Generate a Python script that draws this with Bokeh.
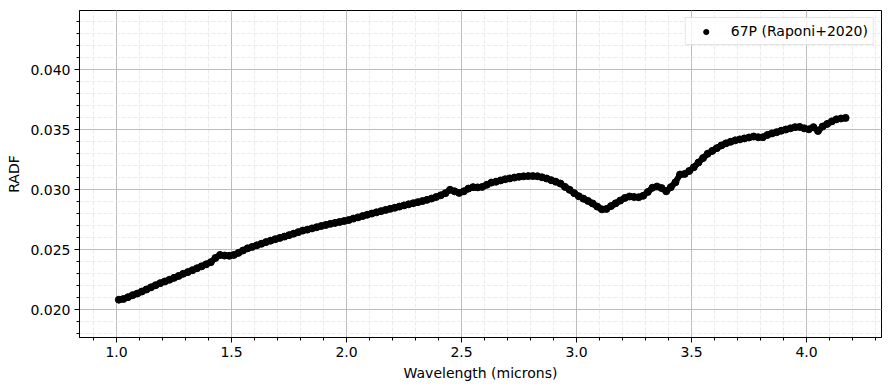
import numpy as np
from bokeh.plotting import figure
from bokeh.models import (ColumnDataSource, Range1d, FixedTicker, PrintfTickFormatter,
                          Legend, LegendItem)
from bokeh.embed import file_html
from bokeh.resources import INLINE

# 67P nucleus reflectance spectrum (radiance factor) vs wavelength
wavelength = [
    1.01, 1.03, 1.05, 1.07, 1.09, 1.11, 1.13, 1.15, 1.17, 1.19,
    1.21, 1.23, 1.25, 1.27, 1.29, 1.31, 1.33, 1.35, 1.37, 1.39,
    1.41, 1.43, 1.45, 1.47, 1.49, 1.51, 1.53, 1.55, 1.57, 1.59,
    1.61, 1.63, 1.65, 1.67, 1.69, 1.71, 1.73, 1.75, 1.77, 1.79,
    1.81, 1.83, 1.85, 1.87, 1.89, 1.91, 1.93, 1.95, 1.97, 1.99,
    2.01, 2.03, 2.05, 2.07, 2.09, 2.11, 2.13, 2.15, 2.17, 2.19,
    2.21, 2.23, 2.25, 2.27, 2.29, 2.31, 2.33, 2.35, 2.37, 2.39,
    2.41, 2.43, 2.45, 2.47, 2.49, 2.51, 2.53, 2.55, 2.57, 2.59,
    2.61, 2.63, 2.65, 2.67, 2.69, 2.71, 2.73, 2.75, 2.77, 2.79,
    2.81, 2.83, 2.85, 2.87, 2.89, 2.91, 2.93, 2.95, 2.97, 2.99,
    3.01, 3.03, 3.05, 3.07, 3.09, 3.11, 3.13, 3.15, 3.17, 3.19,
    3.21, 3.23, 3.25, 3.27, 3.29, 3.31, 3.33, 3.35, 3.37, 3.39,
    3.41, 3.43, 3.45, 3.47, 3.49, 3.51, 3.53, 3.55, 3.57, 3.59,
    3.61, 3.63, 3.65, 3.67, 3.69, 3.71, 3.73, 3.75, 3.77, 3.79,
    3.81, 3.83, 3.85, 3.87, 3.89, 3.91, 3.93, 3.95, 3.97, 3.99,
    4.01, 4.03, 4.05, 4.07, 4.09, 4.11, 4.13, 4.15, 4.17,
]

radf = [
    0.02082, 0.02088, 0.02103, 0.02120, 0.02133, 0.02150, 0.02167, 0.02185, 0.02203, 0.02220,
    0.02234, 0.02248, 0.02264, 0.02280, 0.02298, 0.02312, 0.02328, 0.02344, 0.02360, 0.02377,
    0.02395, 0.02430, 0.02455, 0.02450, 0.02448, 0.02455, 0.02472, 0.02492, 0.02510, 0.02522,
    0.02535, 0.02548, 0.02562, 0.02574, 0.02586, 0.02597, 0.02608, 0.02620, 0.02632, 0.02645,
    0.02658, 0.02666, 0.02676, 0.02686, 0.02696, 0.02705, 0.02714, 0.02722, 0.02730, 0.02738,
    0.02746, 0.02758, 0.02768, 0.02779, 0.02790, 0.02800, 0.02810, 0.02820, 0.02830, 0.02839,
    0.02848, 0.02858, 0.02868, 0.02877, 0.02886, 0.02895, 0.02904, 0.02914, 0.02925, 0.02938,
    0.02952, 0.02970, 0.02998, 0.02985, 0.02972, 0.02985, 0.03008, 0.03020, 0.03018, 0.03022,
    0.03040, 0.03058, 0.03065, 0.03076, 0.03086, 0.03093, 0.03100, 0.03106, 0.03110, 0.03112,
    0.03112, 0.03111, 0.03102, 0.03092, 0.03078, 0.03065, 0.03050, 0.03022, 0.02998, 0.02970,
    0.02944, 0.02924, 0.02905, 0.02884, 0.02858, 0.02835, 0.02838, 0.02862, 0.02885, 0.02908,
    0.02930, 0.02942, 0.02938, 0.02936, 0.02948, 0.02980, 0.03015, 0.03025, 0.03012, 0.02985,
    0.03020, 0.03060, 0.03125, 0.03130, 0.03155, 0.03186, 0.03225, 0.03262, 0.03298, 0.03322,
    0.03345, 0.03368, 0.03385, 0.03398, 0.03410, 0.03418, 0.03426, 0.03434, 0.03442, 0.03436,
    0.03436, 0.03455, 0.03468, 0.03478, 0.03490, 0.03500, 0.03510, 0.03520, 0.03522, 0.03510,
    0.03502, 0.03520, 0.03488, 0.03525, 0.03547, 0.03568, 0.03585, 0.03592, 0.03597,
]

radf_err = [
    0.00008, 0.00008, 0.00007, 0.00008, 0.00008, 0.00007, 0.00008, 0.00008, 0.00007, 0.00008,
    0.00008, 0.00007, 0.00008, 0.00008, 0.00007, 0.00008, 0.00008, 0.00008, 0.00007, 0.00008,
    0.00008, 0.00009, 0.00008, 0.00008, 0.00007, 0.00008, 0.00008, 0.00008, 0.00007, 0.00008,
    0.00008, 0.00008, 0.00007, 0.00008, 0.00008, 0.00008, 0.00007, 0.00008, 0.00008, 0.00008,
    0.00008, 0.00008, 0.00007, 0.00008, 0.00008, 0.00008, 0.00008, 0.00007, 0.00008, 0.00008,
    0.00008, 0.00008, 0.00008, 0.00008, 0.00007, 0.00008, 0.00008, 0.00008, 0.00008, 0.00008,
    0.00008, 0.00008, 0.00009, 0.00008, 0.00008, 0.00008, 0.00009, 0.00008, 0.00008, 0.00009,
    0.00009, 0.00009, 0.00010, 0.00009, 0.00009, 0.00009, 0.00009, 0.00009, 0.00009, 0.00009,
    0.00009, 0.00009, 0.00009, 0.00009, 0.00009, 0.00009, 0.00009, 0.00009, 0.00009, 0.00009,
    0.00009, 0.00009, 0.00009, 0.00009, 0.00009, 0.00009, 0.00009, 0.00009, 0.00009, 0.00009,
    0.00009, 0.00009, 0.00009, 0.00010, 0.00010, 0.00010, 0.00010, 0.00009, 0.00009, 0.00009,
    0.00009, 0.00009, 0.00009, 0.00009, 0.00010, 0.00010, 0.00010, 0.00010, 0.00010, 0.00010,
    0.00010, 0.00010, 0.00011, 0.00010, 0.00010, 0.00010, 0.00010, 0.00011, 0.00011, 0.00011,
    0.00011, 0.00011, 0.00011, 0.00012, 0.00012, 0.00012, 0.00012, 0.00012, 0.00013, 0.00013,
    0.00013, 0.00013, 0.00014, 0.00014, 0.00014, 0.00015, 0.00015, 0.00016, 0.00016, 0.00017,
    0.00018, 0.00019, 0.00020, 0.00021, 0.00022, 0.00024, 0.00025, 0.00027, 0.00028,
]

series_label = "67P (Raponi+2020)"
x_major = [1.0, 1.5, 2.0, 2.5, 3.0, 3.5, 4.0]
y_major = [0.020, 0.025, 0.030, 0.035, 0.040]

FONT = "DejaVu Sans"
FONT_SIZE = "14px"

src = ColumnDataSource(dict(
    x=wavelength,
    y=radf,
    lo=[v - e for v, e in zip(radf, radf_err)],
    hi=[v + e for v, e in zip(radf, radf_err)],
))

p = figure(
    width=889, height=390,
    output_backend="svg", toolbar_location=None,
    x_range=Range1d(0.839, 4.326), y_range=Range1d(0.01767, 0.04492),
    min_border_left=79, min_border_right=8, min_border_top=10, min_border_bottom=53,
    background_fill_color="white", border_fill_color="white",
)

# ticks: majors labelled, minors every 0.1 micron / 0.001 RADF
x_minor = [round(v, 2) for v in np.arange(0.9, 4.35, 0.1)]
y_minor = [round(v, 4) for v in np.arange(0.018, 0.0449, 0.001)]
p.xaxis.ticker = FixedTicker(ticks=x_major, minor_ticks=x_minor)
p.yaxis.ticker = FixedTicker(ticks=y_major, minor_ticks=y_minor)
p.xaxis.formatter = PrintfTickFormatter(format="%.1f")
p.yaxis.formatter = PrintfTickFormatter(format="%.3f")

for ax in (p.xaxis, p.yaxis):
    ax.axis_line_color = "black"
    ax.axis_line_width = 1
    ax.major_tick_in = 0
    ax.major_tick_out = 5
    ax.minor_tick_in = 0
    ax.minor_tick_out = 3
    ax.major_tick_line_color = "black"
    ax.minor_tick_line_color = "black"
    ax.major_label_text_font = FONT
    ax.major_label_text_font_size = FONT_SIZE
    ax.major_label_text_color = "black"
    ax.major_label_standoff = 4
    ax.axis_label_text_font = FONT
    ax.axis_label_text_font_size = FONT_SIZE
    ax.axis_label_text_font_style = "normal"
    ax.axis_label_text_color = "black"
    ax.axis_label_standoff = 5

p.xaxis.axis_label = "Wavelength (microns)"
p.yaxis.axis_label = "RADF"

p.outline_line_color = "black"
p.outline_line_width = 1

for g in (p.xgrid, p.ygrid):
    g.grid_line_color = "#b0b0b0"
    g.grid_line_width = 0.8
    g.minor_grid_line_color = "#e2e2e2"
    g.minor_grid_line_width = 0.7
    g.minor_grid_line_dash = "4 2"

# error bars, a connecting trace and the measurement points
p.segment(x0="x", y0="lo", x1="x", y1="hi", source=src,
          line_color="black", line_alpha=0.45, line_width=1)
p.line("x", "y", source=src, line_color="black", line_width=6)
dots = p.scatter("x", "y", source=src, size=7, marker="circle",
                 fill_color="black", line_color="black")

legend = Legend(
    items=[LegendItem(label=series_label, renderers=[dots])],
    location="top_right",
    margin=7, padding=5, spacing=0,
    glyph_width=30, glyph_height=13, label_height=15,
    label_standoff=10,
    label_text_font=FONT, label_text_font_size=FONT_SIZE, label_text_color="black",
    border_line_color="#cccccc", border_line_width=1,
    background_fill_color="white", background_fill_alpha=0.8,
)
p.add_layout(legend)

open("out.html", "w").write(file_html(p, INLINE))
